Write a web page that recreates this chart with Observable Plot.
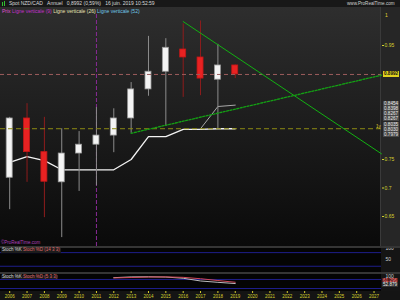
<!DOCTYPE html>
<html><head><meta charset="utf-8">
<script src="https://cdn.jsdelivr.net/npm/d3@7"></script>
<script src="https://cdn.jsdelivr.net/npm/@observablehq/plot@0.6"></script>
<style>
html,body{margin:0;padding:0;background:#000;}
#wrap{position:relative;width:400px;height:300px;overflow:hidden;font-family:"Liberation Sans",Arial,sans-serif;}
#wrap svg{position:absolute;left:0;display:block;}
.t{position:absolute;white-space:nowrap;line-height:1;font-size:5px;}
.tag{position:absolute;white-space:nowrap;line-height:5px;font-size:4.6px;padding:0 1px;}
</style></head><body><div id="wrap"></div>
<script>
// ---- data ----
const years  = [2006,2007,2008,2009,2010,2011,2012,2013,2014,2015,2016,2017,2018,2019];
const opens  = [0.718,0.822,0.763,0.710,0.7605,0.776,0.792,0.822,0.873,0.904,0.943,0.929,0.890,0.915];
const highs  = [0.824,0.848,0.824,0.804,0.799,0.841,0.839,0.885,0.966,0.962,0.988,0.993,0.952,0.916];
const lows   = [0.662,0.710,0.648,0.613,0.694,0.704,0.762,0.796,0.861,0.808,0.859,0.862,0.804,0.892];
const closes = [0.822,0.763,0.711,0.7605,0.776,0.792,0.822,0.873,0.904,0.946,0.929,0.892,0.915,0.8992];
const trailValues = [0.745,0.755,0.748,0.732,0.732,0.732,0.732,0.750,0.790,0.790,0.803,0.803,0.804,0.804];
const trail2Years = [2017,2018,2019];
const trail2Values = [0.804,0.843,0.8454];
const resistYears = [2016,2027.43];
const resistValues = [0.992,0.760];
const supportYears = [2013,2027.43];
const supportValues = [0.796,0.898];
const priceLevel = [0.8992];
const supportLevel = [0.804];
const verticalYears = [2011];
const yTicks = [0.65,0.7,0.75,0.95];
const xTickYears = [2006,2007,2008,2009,2010,2011,2012,2013,2014,2015,2016,2017,2018,2019,2020,2021,2022,2023,2024,2025,2026,2027];
const tagLabels = ["0.8454","0.8398","0.8267","0.8267","0.8035","0.8030","0.7979"];
const tagValues = [0.8454,0.8398,0.8267,0.8267,0.8035,0.8030,0.7979];
const stochYears = [2012,2013,2014,2015,2016,2017,2018,2019];
const stochK = [92,97,98,96,88,70,61,52.879];
const stochD = [90,93,96,97,94,85,73,61.296];
const stochLevels = [80,20];
const stoch2Labels = [100,50];
const stoch3Labels = [100];

const candles = years.map((year,i)=>({year, open:opens[i], high:highs[i], low:lows[i], close:closes[i]}));
const isUp = d => d.close >= d.open;
const xDomain = [2005.47, 2027.43];
const half = 0.173;
const FONT = '"Liberation Sans",Arial,sans-serif';
const wrap = document.getElementById("wrap");

function addText(html, left, top, css){
  const d = document.createElement("div");
  d.className = "t"; d.innerHTML = html;
  d.style.left = left+"px"; d.style.top = top+"px";
  if (css) d.style.cssText += css;
  wrap.appendChild(d); return d;
}

// ---- main price panel ----
const main = Plot.plot({
  width: 400, height: 239,
  marginTop: 7, marginBottom: 0, marginLeft: 0, marginRight: 19,
  x: {domain: xDomain, axis: null},
  y: {domain: [0.5974, 1.0044], axis: "right", ticks: yTicks, tickFormat: d => String(d), tickSize: 2, tickPadding: 1, label: null},
  style: {color: "#d6cf2e", fontSize: "5px", fontFamily: FONT, overflow: "visible"},
  marks: [
    Plot.ruleX(verticalYears, {x: d => d, stroke: "#8a2a96", strokeWidth: 1, strokeDasharray: "4,2"}),
    Plot.line(years.map((y,i)=>({x:y, v:trailValues[i]})), {x:"x", y:"v", stroke:"#f2f2f2", strokeWidth:1.3}),
    Plot.line(trail2Years.map((y,i)=>({x:y, v:trail2Values[i]})), {x:"x", y:"v", stroke:"#a8a8a8", strokeWidth:1}),
    Plot.ruleX(candles, {x:"year", y1:"low", y2:"high", stroke: d => isUp(d) ? "#8c8c8c" : "#8e1c1c", strokeWidth:1}),
    Plot.rect(candles, {x1: d => d.year - half, x2: d => d.year + half, y1:"open", y2:"close",
      fill: d => isUp(d) ? "#f4f4f4" : "#e82222", stroke: d => isUp(d) ? "#9a9a9a" : "#c01818", strokeWidth: 0.8}),
    Plot.ruleY(priceLevel, {y: d => d, stroke:"#9c5c5c", strokeDasharray:"4,3", strokeWidth:1}),
    Plot.ruleY(supportLevel, {y: d => d, stroke:"#8c8a12", strokeDasharray:"5,3", strokeWidth:1}),
    Plot.line(resistYears.map((y,i)=>({x:y, v:resistValues[i]})), {x:"x", y:"v", stroke:"#12b012", strokeWidth:1}),
    Plot.line(supportYears.map((y,i)=>({x:y, v:supportValues[i]})), {x:"x", y:"v", stroke:"#14a014", strokeWidth:1.3, strokeDasharray:"2,1.5"})
  ]
});
main.style.top = "7px";
main.style.background = "linear-gradient(to right, rgba(0,0,0,0) 380px, #3a3a3a 380px, #3a3a3a 381px, #262626 381px), linear-gradient(to bottom, #2e2e2e, #0a0a0a)";
wrap.appendChild(main);
const yMain = main.scale("y");

// ---- stoch (14 3 3) panel ----
const p2 = Plot.plot({
  width: 400, height: 27, marginTop: 0, marginBottom: 0, marginLeft: 0, marginRight: 19,
  x: {domain: xDomain, axis: null},
  y: {domain: [-12, 107], axis: null},
  style: {fontSize: "5px", fontFamily: FONT, overflow: "visible"},
  marks: [
    Plot.ruleY(stochLevels, {y: d => d, stroke: "#1e1e8c"}),
    Plot.text(stoch2Labels, {y: d => d, text: d => String(d), frameAnchor: "right", dx: 4, textAnchor: "start", fill: "#d0d0d0"})
  ]
});
p2.style.top = "246px";
p2.style.background = "linear-gradient(to right, #040404 381px, #151515 381px)";
wrap.appendChild(p2);

// ---- stoch (5 3 3) panel + x axis ----
const p3 = Plot.plot({
  width: 400, height: 27, marginTop: 1, marginBottom: 9, marginLeft: 0, marginRight: 19,
  x: {domain: xDomain, ticks: xTickYears, tickFormat: d => String(d), tickSize: 2, tickPadding: 1, label: null},
  y: {domain: [0, 113], axis: null},
  style: {color: "#d6cf2e", fontSize: "4.5px", fontFamily: FONT, overflow: "visible"},
  marks: [
    Plot.ruleY(stochLevels, {y: d => d, stroke: "#1e1e8c"}),
    Plot.line(stochYears.map((y,i)=>({x:y, v:stochK[i]})), {x:"x", y:"v", stroke:"#bdbdbd", strokeWidth:1}),
    Plot.line(stochYears.map((y,i)=>({x:y, v:stochD[i]})), {x:"x", y:"v", stroke:"#d04a5a", strokeWidth:1}),
    Plot.text(stoch3Labels, {y: d => d, text: d => String(d), frameAnchor: "right", dx: 4, textAnchor: "start", fill: "#d0d0d0", fontSize: 5})
  ]
});
p3.style.top = "273px";
p3.style.background = "linear-gradient(to bottom, rgba(0,0,0,0) 18px, #141414 18px), linear-gradient(to right, #040404 381px, #151515 381px)";
wrap.appendChild(p3);
const yP3 = p3.scale("y");

// ---- separators ----
[[246,2],[272,2]].forEach(([t,h])=>{
  const d=document.createElement("div");
  d.style.cssText=`position:absolute;left:0;top:${t}px;width:400px;height:${h}px;background:#353535;`;
  wrap.appendChild(d);
});

// ---- header ----
const hdr=document.createElement("div");
hdr.style.cssText="position:absolute;left:0;top:0;width:400px;height:7px;background:#181818;";
wrap.appendChild(hdr);
const ic1=document.createElement("div"); ic1.style.cssText="position:absolute;left:2px;top:2px;width:1px;height:4px;background:#30c030;"; wrap.appendChild(ic1);
const ic2=document.createElement("div"); ic2.style.cssText="position:absolute;left:4px;top:1px;width:1px;height:5px;background:#30c030;"; wrap.appendChild(ic2);
addText("Spot NZD/CAD&nbsp;&nbsp;&nbsp;Annuel&nbsp;&nbsp;&nbsp;0,8992 (0,59%)&nbsp;&nbsp;&nbsp;16 juin. 2019 10:52:59", 9, 1, "color:#d8d8d8;");
addText("www.ProRealTime.com", 347, 1.5, "color:#d0d0d0;font-size:4.6px;");
addText('<span style="color:#e050d0">Prix</span> <span style="color:#c030c8">Ligne verticale (9)</span> <span style="color:#e4e0b0">Ligne verticale (26)</span> <span style="color:#70c8e8">Ligne verticale (52)</span>', 2, 8.5, "");
addText("1", 385, 13, "color:#e0d030;");
addText("©ProRealTime.com", 1, 241, "color:#b040b8;font-size:4.5px;");

// ---- stoch labels ----
addText('<span style="color:#d8d8d8">Stoch %K</span> <span style="color:#e06a6a">Stoch %D (14 3 3)</span>', 1, 248, "background:#1c1c1c;padding:0 1px;font-size:4.5px;");
addText('<span style="color:#d8d8d8">Stoch %K</span> <span style="color:#e06a6a">Stoch %D (5 3 3)</span>', 1, 274.5, "background:#1c1c1c;padding:0 1px;font-size:4.5px;");

// ---- right-axis value tags (stacked to avoid overlap) ----
function dodge(vals, gap){
  const pos = vals.map(v=>({n:v, p:v}));
  let clusters = [];
  pos.forEach(o=>{
    clusters.push({items:[o]});
    let merged=true;
    while(merged && clusters.length>1){
      merged=false;
      const c=clusters[clusters.length-1], b=clusters[clusters.length-2];
      const lay = cl=>{const m=d3.mean(cl.items,o=>o.n); cl.items.forEach((o,k)=>o.p=m+(k-(cl.items.length-1)/2)*gap);};
      lay(c); lay(b);
      if (c.items[0].p - b.items[b.items.length-1].p < gap){
        b.items=b.items.concat(c.items); clusters.pop(); lay(b); merged=true;
      }
    }
  });
  return pos.map(o=>o.p);
}
const tagY = dodge(tagValues.map(v=>7+yMain.apply(v)), 5);
tagLabels.forEach((lab,i)=>{
  const d=document.createElement("div");
  d.className="tag"; d.textContent=lab;
  d.style.cssText+=`left:383px;top:${tagY[i]-2.5}px;background:#474747;color:#ececec;`;
  wrap.appendChild(d);
});
priceLevel.forEach(v=>{
  const d=document.createElement("div");
  d.className="tag"; d.textContent=v.toFixed(4);
  d.style.cssText+=`left:383px;top:${7+yMain.apply(v)-3}px;background:#e2d21e;color:#111;line-height:6px;font-weight:bold;`;
  wrap.appendChild(d);
});
supportLevel.forEach(v=>{
  addText("1y", 376, 7+yMain.apply(v)-3.5, "color:#e0d030;font-size:4.5px;");
});
const stochTags=[[stochD[stochD.length-1],"#5a1c1c","#ff8a8a"],[stochK[stochK.length-1],"#303030","#ececec"]];
const st=dodge(stochTags.map(s=>273+yP3.apply(s[0])), 4.6);
stochTags.forEach((s,i)=>{
  const d=document.createElement("div");
  d.className="tag"; d.textContent=s[0].toFixed(3);
  d.style.cssText+=`left:382px;top:${st[i]-2.5}px;background:${s[1]};color:${s[2]};`;
  wrap.appendChild(d);
});
</script></body></html>
